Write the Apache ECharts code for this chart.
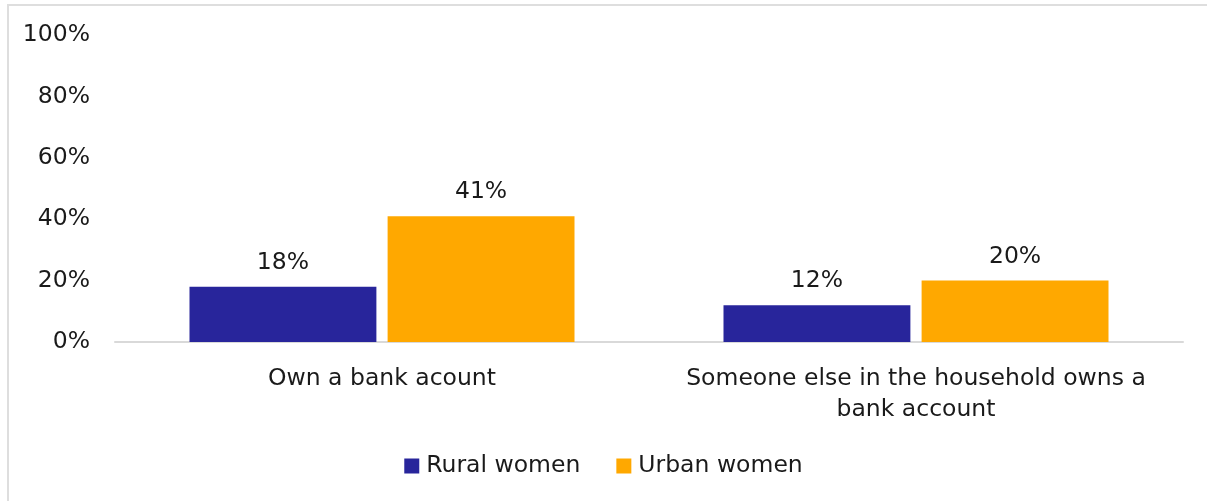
<!DOCTYPE html>
<html>
<head>
<meta charset="utf-8">
<script src="https://cdn.jsdelivr.net/npm/echarts@6/dist/echarts.min.js"></script>
<style>
  html, body { margin: 0; padding: 0; background: #ffffff; }
  #chart { width: 1207px; height: 501px; }
</style>
</head>
<body>
<div id="chart"></div>
<script>
// Bank account ownership among women, by area of residence
const categories = ['Own a bank acount', 'Someone else in the household owns a\nbank account'];
const ruralWomen = [18, 12];
const urbanWomen = [41, 20];
const yTicks = [0, 20, 40, 60, 80, 100];

const FONT = '"Century Gothic", "DejaVu Sans", sans-serif';
const TEXT = '#1a1a1a';
const SIZE = 23.5;

const chart = echarts.init(document.getElementById('chart'));

const valueLabel = {
  show: true,
  position: 'top',
  distance: 12,
  formatter: p => p.value + '%',
  color: TEXT,
  fontFamily: FONT,
  fontSize: SIZE
};

chart.setOption({
  animation: false,
  backgroundColor: '#ffffff',
  graphic: [{
    type: 'rect',
    shape: { x: 8, y: 5, width: 1210, height: 510 },
    style: { fill: 'none', stroke: '#dedede', lineWidth: 2 },
    silent: true
  }],
  grid: { left: 115, right: 24, top: 35, bottom: 159 },
  legend: {
    bottom: 18,
    left: 'center',
    itemWidth: 15,
    itemHeight: 15,
    itemGap: 36,
    icon: 'rect',
    textStyle: { color: TEXT, fontFamily: FONT, fontSize: SIZE, padding: [0, 0, 0, 2] },
    data: ['Rural women', 'Urban women']
  },
  xAxis: {
    type: 'category',
    data: categories,
    axisLine: { show: true, lineStyle: { color: '#d9d9d9', width: 2 } },
    axisTick: { show: false },
    axisLabel: {
      interval: 0,
      color: TEXT,
      fontFamily: FONT,
      fontSize: SIZE,
      lineHeight: 31,
      margin: 21,
      align: 'center'
    }
  },
  yAxis: {
    type: 'value',
    min: yTicks[0],
    max: yTicks[yTicks.length - 1],
    interval: yTicks[1] - yTicks[0],
    axisLine: { show: false },
    axisTick: { show: false },
    splitLine: { show: false },
    axisLabel: {
      color: TEXT,
      fontFamily: FONT,
      fontSize: SIZE,
      margin: 25,
      formatter: v => v + '%'
    }
  },
  series: [
    {
      name: 'Rural women',
      type: 'bar',
      data: ruralWomen,
      barWidth: '35%',
      barGap: '6%',
      itemStyle: { color: '#28259b' },
      label: valueLabel
    },
    {
      name: 'Urban women',
      type: 'bar',
      data: urbanWomen,
      barWidth: '35%',
      barGap: '6%',
      itemStyle: { color: '#ffa800' },
      label: valueLabel
    }
  ]
});
</script>
</body>
</html>
